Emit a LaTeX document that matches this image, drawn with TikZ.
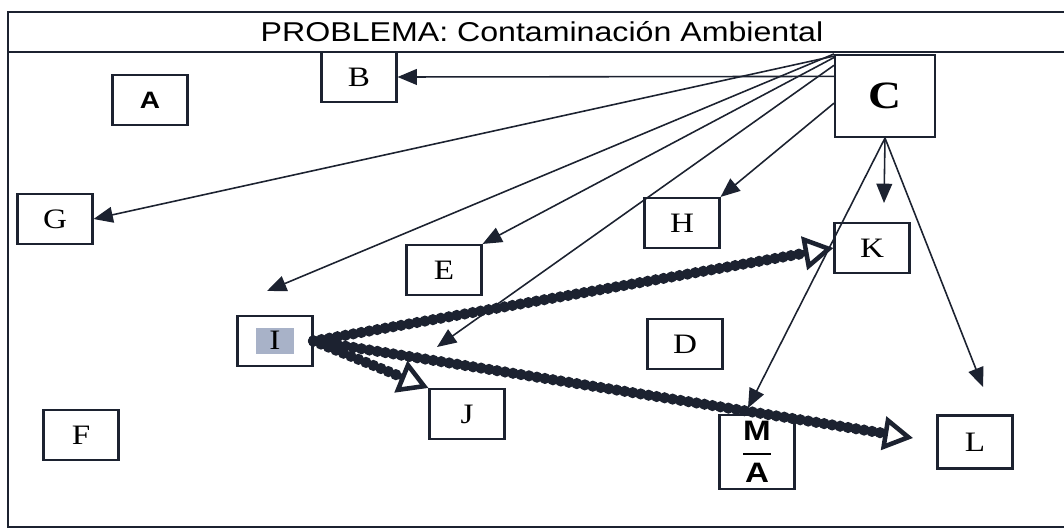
\documentclass[tikz,border=0pt]{standalone}
\usepackage{fontspec}
\setmainfont{Liberation Serif}[FakeStretch=1.18]
\newfontfamily\sansfont{Liberation Sans}[FakeStretch=1.18]
\usetikzlibrary{arrows.meta}
\definecolor{ink}{RGB}{28,34,48}
\definecolor{shade}{RGB}{168,178,200}
\tikzset{
	box/.style={draw=ink, line width=1.2pt, minimum width=1.5cm, minimum height=1cm, inner sep=0pt, font=\fontsize{16}{18}\selectfont},
	link/.style={ink, line width=0.9pt},
	beads/.style={ink, line width=3.6pt, -{Triangle[open, length=17pt, width=19pt, line width=2.6pt]},
		postaction={draw=ink, -, line width=6.4pt, line cap=round, dash pattern=on 0pt off 4.6pt, shorten >=17pt}},
}
\begin{document}
\begin{tikzpicture}[x=0.02cm, y=-0.02cm, ->, >={Triangle[length=11pt, width=9pt]}, nodes={box}]
				\useasboundingbox (0,0) rectangle (1064,530);
				% marco y titulo
				\draw [-, ink, line width=1.1pt] (1064,12) -- (8,12) -- (8,527) -- (1064,527);
				\draw [-, ink, line width=1.1pt] (8,52) -- (1064,52);
				\node (title) [draw=none, font=\sansfont\fontsize{15.5}{18}\selectfont] at (542,32) {PROBLEMA: Contaminación Ambiental};
				% cajas
				\node (A) [font=\sansfont\bfseries\fontsize{13.5}{15}\selectfont] at (150,100) {A};
				\node (B) at (359,77) {B};
				\node (C) [minimum width=2cm, minimum height=1.64cm, font=\bfseries\fontsize{22}{24}\selectfont] at (885,96) {C};
				\node (G) at (55,219) {G};
				\node (H) at (682,223) {H};
				\node (E) at (444,270) {E};
				\node (K) at (872,248) {K};
				\node (I) at (275,341) {{\fboxsep=0pt\colorbox{shade}{\makebox[22pt]{\rule[-2.3pt]{0pt}{14.5pt}I}}}};
				\node (D) at (685,344) {D};
				\node (J) at (467,414) {J};
				\node (F) at (81,435) {F};
				\node (M) [minimum height=1.48cm, font=\sansfont\bfseries\fontsize{16}{18}\selectfont] at (757,452) {$\displaystyle{\hbox{M}\above 1.1pt\hbox{A}}$};
				\node (L) [minimum height=1.06cm] at (975,442) {L};
				% puntas sueltas
				\coordinate (pI) at (267,291);
				\coordinate (pJ) at (437,347);
				\coordinate (pK) at (884,203);
				\coordinate (pM) at (748,408);
				\coordinate (pL) at (983,387);
				\coordinate (tipL) at (913,438);
				% flechas desde C
				\draw [link] (C.159) -> (B.east);
				\draw [link] (C.142) -> (G.east);
				\draw [link] (C.north west) -> (pI);
				\draw [link] (C.143) -> (E.north east);
				\draw [link] (C.149) -> (pJ);
				\draw [link] (C.188) -> (H.north east);
				\draw [link] (C.south) -> (pK);
				\draw [link] (C.south) -> (pM);
				\draw [link] (C.south) -> (pL);
				% flechas gruesas desde I
				\draw [beads] (I.east) -> (K.west);
				\draw [beads] (I.east) -> (tipL);
				\draw [beads] (I.east) -> (J.north west);
			\end{tikzpicture}
\end{document}
